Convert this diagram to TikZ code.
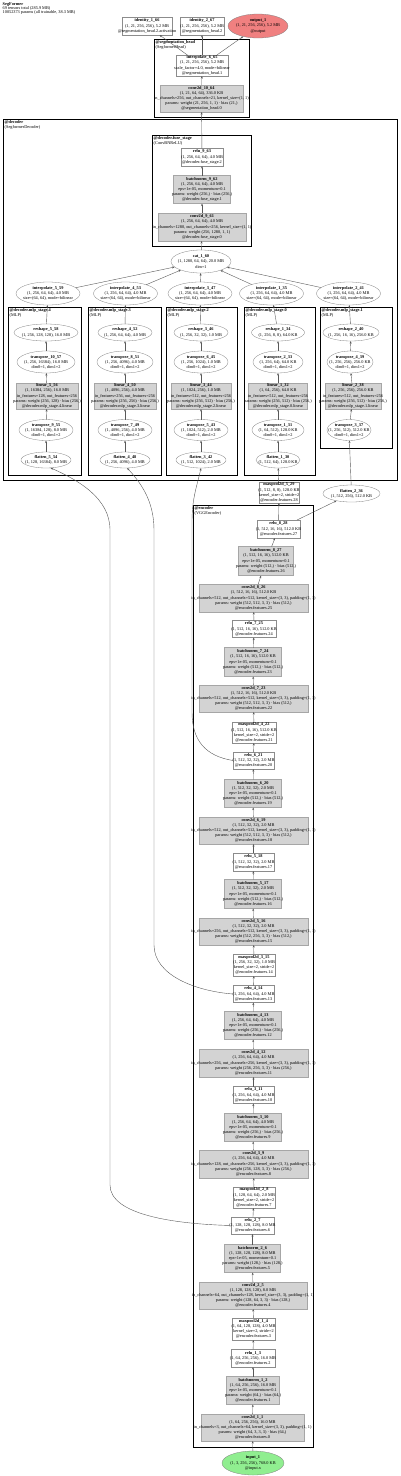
\documentclass[tikz,border=0pt]{standalone}
\usepackage{fontspec}
\setmainfont{Liberation Serif}
\usetikzlibrary{shapes.geometric,arrows.meta}
\definecolor{outfill}{HTML}{F08080}
\definecolor{infill}{HTML}{90EE90}
\definecolor{gfill}{HTML}{D3D3D3}
\tikzset{
 lbl/.style={align=center,inner sep=0pt,font=\fontsize{4.3}{5.1}\selectfont},
 box/.style={draw=black!45,line width=0.3pt,fill=white,inner sep=0pt,outer sep=0pt},
 gbox/.style={draw=black!35,line width=0.5pt,fill=gfill,inner sep=0pt,outer sep=0pt},
 bnbox/.style={draw=black!50,double=black!35,double distance=0.6pt,line width=0.5pt,fill=gfill,inner sep=0pt,outer sep=0pt},
 ell/.style={ellipse,draw=black!50,line width=0.3pt,fill=white,inner sep=0pt,outer sep=0pt},
 clu/.style={draw=black,line width=1pt},
 clulbl/.style={anchor=north west,align=left,inner sep=0pt,font=\fontsize{4.3}{4.6}\selectfont},
 edge/.style={draw=black!65,line width=0.4pt,-{Stealth[length=2.6pt,width=2pt]}},
}
\newcommand\bx[7]{\node[#6,minimum width=#4pt,minimum height=#5pt] (#1) at (#2,#3) {};\node[lbl] (#1t) at (#2,#3) {#7};}
\newcommand\el[7]{\node[ell,#6,minimum width=#4pt,minimum height=#5pt] (#1) at (#2,#3) {};\node[lbl] (#1t) at (#2,#3) {#7};}
\newcommand\TB[1]{\textbf{#1}}
\newcommand\EPSm{eps=1e-05, momentum=0.1}
\newcommand\CONVk[2]{in\_channels=#1, out\_channels=#2, kernel\_size=(3, 3), padding=(1, 1)}
\newcommand\ENCf[1]{@encoder.features.#1}
\newcommand\INTt{(1, 256, 64, 64), 4.0 MB\\size=(64, 64), mode=bilinear}
\begin{document}
\begin{tikzpicture}[x=1pt,y=-1pt]
\useasboundingbox (0,0) rectangle (400,1476);
% header
\node[anchor=north west,align=left,inner sep=0pt,font=\fontsize{4.3}{4.0}\selectfont] (hdr) at (2.5,2)
 {\TB{SegFormer}\\69 tensors total (285.9 MB)\\10052373 params (all trainable, 38.3 MB)};
% clusters
\draw[clu] (154,39) rectangle (249,117);
\node[clulbl] (lseg) at (155.5,40.5) {\TB{@segmentation\_head}\\(SegformerHead)};
\draw[clu] (3,119) rectangle (397,480);
\node[clulbl] (ldec) at (4.5,120.5) {\TB{@decoder}\\(SegformerDecoder)};
\draw[clu] (152,135) rectangle (251,246);
\node[clulbl] (lfuse) at (153.5,136.5) {\TB{@decoder.fuse\_stage}\\(ConvBNReLU)};
\draw[clu] (8,307) rectangle (81,475);
\node[clulbl] (lm4) at (9.5,308.5) {\TB{@decoder.mlp\_stage.4}\\(MLP)};
\draw[clu] (88,307) rectangle (161,475);
\node[clulbl] (lm3) at (89.5,308.5) {\TB{@decoder.mlp\_stage.3}\\(MLP)};
\draw[clu] (166,307) rectangle (237,475);
\node[clulbl] (lm2) at (167.5,308.5) {\TB{@decoder.mlp\_stage.2}\\(MLP)};
\draw[clu] (244,307) rectangle (315,475);
\node[clulbl] (lm0) at (245.5,308.5) {\TB{@decoder.mlp\_stage.0}\\(MLP)};
\draw[clu] (320,307) rectangle (392,448);
\node[clulbl] (lm1) at (321.5,308.5) {\TB{@decoder.mlp\_stage.1}\\(MLP)};
\draw[clu] (193,505) rectangle (313,1447);
\node[clulbl] (lenc) at (194.5,506.5) {\TB{@encoder}\\(VGGEncoder)};
% head
\bx{n66}{147}{26}{50}{18}{box}{\TB{identity\_1\_66}\\(1, 21, 256, 256), 5.2 MB\\@segmentation\_head.2.activation}
\bx{n67}{202}{26}{44}{18}{box}{\TB{identity\_2\_67}\\(1, 21, 256, 256), 5.2 MB\\@segmentation\_head.2}
\el{nout}{258}{26}{60}{24}{fill=outfill}{\TB{output\_1}\\(1, 21, 256, 256), 5.2 MB\\@output}
\bx{n65}{202}{65.5}{52}{21}{box}{\TB{interpolate\_6\_65}\\(1, 21, 256, 256), 5.2 MB\\scale\_factor=4.0, mode=bilinear\\@segmentation\_head.1}
\bx{n64}{201.5}{98.5}{83}{27}{gbox}{\TB{conv2d\_10\_64}\\(1, 21, 64, 64), 336.0 KB\\in\_channels=256, out\_channels=21, kernel\_size=(1, 1)\\params: weight (21, 256, 1, 1) · bias (21,)\\@segmentation\_head.0}
% fuse
\bx{n63}{202}{157}{42}{18}{box}{\TB{relu\_9\_63}\\(1, 256, 64, 64), 4.0 MB\\@decoder.fuse\_stage.2}
\bx{n62}{202}{189.5}{57}{28}{bnbox}{\TB{batchnorm\_9\_62}\\(1, 256, 64, 64), 4.0 MB\\\EPSm\\params: weight (256,) · bias (256,)\\@decoder.fuse\_stage.1}
\bx{n61}{202}{227}{88}{28}{gbox}{\TB{conv2d\_9\_61}\\(1, 256, 64, 64), 4.0 MB\\in\_channels=1280, out\_channels=256, kernel\_size=(1, 1)\\params: weight (256, 1280, 1, 1)\\@decoder.fuse\_stage.0}
\el{n60}{201}{261.5}{60}{23}{}{\TB{cat\_1\_60}\\(1, 1280, 64, 64), 20.0 MB\\dim=1}
% interpolates
\el{n59}{48}{293.5}{64}{23}{}{\TB{interpolate\_5\_59}\\\INTt}
\el{n53}{125.5}{293.5}{64}{23}{}{\TB{interpolate\_4\_53}\\\INTt}
\el{n47}{200}{293.5}{64}{23}{}{\TB{interpolate\_3\_47}\\\INTt}
\el{n35}{271.5}{293.5}{64}{23}{}{\TB{interpolate\_1\_35}\\\INTt}
\el{n41}{348.5}{293.5}{64}{23}{}{\TB{interpolate\_2\_41}\\\INTt}
% mlp stage 4
\el{n58}{46}{332.5}{64}{17}{}{\TB{reshape\_5\_58}\\(1, 256, 128, 128), 16.0 MB}
\el{n57}{46}{362}{58}{22}{}{\TB{transpose\_10\_57}\\(1, 256, 16384), 16.0 MB\\dim0=1, dim1=2}
\bx{n56}{47}{396}{62}{26}{gbox}{\TB{linear\_5\_56}\\(1, 16384, 256), 16.0 MB\\in\_features=128, out\_features=256\\params: weight (256, 128) · bias (256,)\\@decoder.mlp\_stage.4.linear}
\el{n55}{46}{430}{54}{21}{}{\TB{transpose\_9\_55}\\(1, 16384, 128), 8.0 MB\\dim0=1, dim1=2}
\el{n54}{46}{460}{50}{16}{}{\TB{flatten\_5\_54}\\(1, 128, 16384), 8.0 MB}
% mlp stage 3
\el{n52}{125}{332.5}{54}{17}{}{\TB{reshape\_4\_52}\\(1, 256, 64, 64), 4.0 MB}
\el{n51}{125}{362}{56}{22}{}{\TB{transpose\_8\_51}\\(1, 256, 4096), 4.0 MB\\dim0=1, dim1=2}
\bx{n50}{125}{396}{62}{26}{gbox}{\TB{linear\_4\_50}\\(1, 4096, 256), 4.0 MB\\in\_features=256, out\_features=256\\params: weight (256, 256) · bias (256,)\\@decoder.mlp\_stage.3.linear}
\el{n49}{125}{430}{54}{21}{}{\TB{transpose\_7\_49}\\(1, 4096, 256), 4.0 MB\\dim0=1, dim1=2}
\el{n48}{125}{460}{50}{16}{}{\TB{flatten\_4\_48}\\(1, 256, 4096), 4.0 MB}
% mlp stage 2
\el{n46}{201}{332.5}{54}{17}{}{\TB{reshape\_3\_46}\\(1, 256, 32, 32), 1.0 MB}
\el{n45}{201}{362}{54}{22}{}{\TB{transpose\_6\_45}\\(1, 256, 1024), 1.0 MB\\dim0=1, dim1=2}
\bx{n44}{201}{396}{60}{26}{gbox}{\TB{linear\_3\_44}\\(1, 1024, 256), 1.0 MB\\in\_features=512, out\_features=256\\params: weight (256, 512) · bias (256,)\\@decoder.mlp\_stage.2.linear}
\el{n43}{201}{430}{54}{21}{}{\TB{transpose\_5\_43}\\(1, 1024, 512), 2.0 MB\\dim0=1, dim1=2}
\el{n42}{201}{460}{50}{16}{}{\TB{flatten\_3\_42}\\(1, 512, 1024), 2.0 MB}
% mlp stage 0
\el{n34}{278}{332.5}{53}{17}{}{\TB{reshape\_1\_34}\\(1, 256, 8, 8), 64.0 KB}
\el{n33}{278}{362}{50}{22}{}{\TB{transpose\_2\_33}\\(1, 256, 64), 64.0 KB\\dim0=1, dim1=2}
\bx{n32}{278}{396}{59}{26}{gbox}{\TB{linear\_1\_32}\\(1, 64, 256), 64.0 KB\\in\_features=512, out\_features=256\\params: weight (256, 512) · bias (256,)\\@decoder.mlp\_stage.0.linear}
\el{n31}{278}{430}{52}{21}{}{\TB{transpose\_1\_31}\\(1, 64, 512), 128.0 KB\\dim0=1, dim1=2}
\el{n30}{278}{460}{44}{16}{}{\TB{flatten\_1\_30}\\(1, 512, 64), 128.0 KB}
% mlp stage 1
\el{n40}{351}{332.5}{56}{17}{}{\TB{reshape\_2\_40}\\(1, 256, 16, 16), 256.0 KB}
\el{n39}{350}{362}{46}{22}{}{\TB{transpose\_4\_39}\\(1, 256, 256), 256.0 KB\\dim0=1, dim1=2}
\bx{n38}{353}{396}{56}{26}{gbox}{\TB{linear\_2\_38}\\(1, 256, 256), 256.0 KB\\in\_features=512, out\_features=256\\params: weight (256, 512) · bias (256,)\\@decoder.mlp\_stage.1.linear}
\el{n37}{349}{430}{44}{21}{}{\TB{transpose\_3\_37}\\(1, 256, 512), 512.0 KB\\dim0=1, dim1=2}
\el{n36}{351.5}{493.5}{57}{17}{}{\TB{flatten\_2\_36}\\(1, 512, 256), 512.0 KB}
% encoder
\bx{n29}{279}{492.5}{40}{21}{box}{\TB{maxpool2d\_5\_29}\\(1, 512, 8, 8), 128.0 KB\\kernel\_size=2, stride=2\\\ENCf{28}}
\bx{n28}{278.5}{529}{43}{18}{box}{\TB{relu\_8\_28}\\(1, 512, 16, 16), 512.0 KB\\\ENCf{27}}
\bx{n27}{266}{561}{55}{29}{bnbox}{\TB{batchnorm\_8\_27}\\(1, 512, 16, 16), 512.0 KB\\\EPSm\\params: weight (512,) · bias (512,)\\\ENCf{26}}
\bx{n26}{253.5}{598}{109}{28}{gbox}{\TB{conv2d\_8\_26}\\(1, 512, 16, 16), 512.0 KB\\\CONVk{512}{512}\\params: weight (512, 512, 3, 3) · bias (512,)\\\ENCf{25}}
\bx{n25}{254}{629}{44}{17}{box}{\TB{relu\_7\_25}\\(1, 512, 16, 16), 512.0 KB\\\ENCf{24}}
\bx{n24}{253}{662}{57}{29}{bnbox}{\TB{batchnorm\_7\_24}\\(1, 512, 16, 16), 512.0 KB\\\EPSm\\params: weight (512,) · bias (512,)\\\ENCf{23}}
\bx{n23}{253.5}{698.5}{109}{27}{gbox}{\TB{conv2d\_7\_23}\\(1, 512, 16, 16), 512.0 KB\\\CONVk{512}{512}\\params: weight (512, 512, 3, 3) · bias (512,)\\\ENCf{22}}
\bx{n22}{254}{732.5}{44}{21}{box}{\TB{maxpool2d\_4\_22}\\(1, 512, 16, 16), 512.0 KB\\kernel\_size=2, stride=2\\\ENCf{21}}
\bx{n21}{253.5}{760.5}{41}{17}{box}{\TB{relu\_6\_21}\\(1, 512, 32, 32), 2.0 MB\\\ENCf{20}}
\bx{n20}{253}{793.5}{57}{28}{bnbox}{\TB{batchnorm\_6\_20}\\(1, 512, 32, 32), 2.0 MB\\\EPSm\\params: weight (512,) · bias (512,)\\\ENCf{19}}
\bx{n19}{253.5}{830.5}{109}{27}{gbox}{\TB{conv2d\_6\_19}\\(1, 512, 32, 32), 2.0 MB\\\CONVk{512}{512}\\params: weight (512, 512, 3, 3) · bias (512,)\\\ENCf{18}}
\bx{n18}{253.5}{862}{41}{18}{box}{\TB{relu\_5\_18}\\(1, 512, 32, 32), 2.0 MB\\\ENCf{17}}
\bx{n17}{253}{894}{57}{29}{bnbox}{\TB{batchnorm\_5\_17}\\(1, 512, 32, 32), 2.0 MB\\\EPSm\\params: weight (512,) · bias (512,)\\\ENCf{16}}
\bx{n16}{253.5}{931.5}{109}{27}{gbox}{\TB{conv2d\_5\_16}\\(1, 512, 32, 32), 2.0 MB\\\CONVk{256}{512}\\params: weight (512, 256, 3, 3) · bias (512,)\\\ENCf{15}}
\bx{n15}{254}{965}{42}{22}{box}{\TB{maxpool2d\_3\_15}\\(1, 256, 32, 32), 1.0 MB\\kernel\_size=2, stride=2\\\ENCf{14}}
\bx{n14}{253.5}{994}{41}{17}{box}{\TB{relu\_4\_14}\\(1, 256, 64, 64), 4.0 MB\\\ENCf{13}}
\bx{n13}{253}{1025.5}{57}{28}{bnbox}{\TB{batchnorm\_4\_13}\\(1, 256, 64, 64), 4.0 MB\\\EPSm\\params: weight (256,) · bias (256,)\\\ENCf{12}}
\bx{n12}{253.5}{1063}{109}{28}{gbox}{\TB{conv2d\_4\_12}\\(1, 256, 64, 64), 4.0 MB\\\CONVk{256}{256}\\params: weight (256, 256, 3, 3) · bias (256,)\\\ENCf{11}}
\bx{n11}{253.5}{1095}{41}{17}{box}{\TB{relu\_3\_11}\\(1, 256, 64, 64), 4.0 MB\\\ENCf{10}}
\bx{n10}{253}{1127.5}{57}{28}{bnbox}{\TB{batchnorm\_3\_10}\\(1, 256, 64, 64), 4.0 MB\\\EPSm\\params: weight (256,) · bias (256,)\\\ENCf{9}}
\bx{n9}{253.5}{1164}{109}{28}{gbox}{\TB{conv2d\_3\_9}\\(1, 256, 64, 64), 4.0 MB\\\CONVk{128}{256}\\params: weight (256, 128, 3, 3) · bias (256,)\\\ENCf{8}}
\bx{n8}{254}{1197.5}{42}{21}{box}{\TB{maxpool2d\_2\_8}\\(1, 128, 64, 64), 2.0 MB\\kernel\_size=2, stride=2\\\ENCf{7}}
\bx{n7}{252.5}{1225.5}{43}{17}{box}{\TB{relu\_2\_7}\\(1, 128, 128, 128), 8.0 MB\\\ENCf{6}}
\bx{n6}{252.5}{1258.5}{56}{28}{bnbox}{\TB{batchnorm\_2\_6}\\(1, 128, 128, 128), 8.0 MB\\\EPSm\\params: weight (128,) · bias (128,)\\\ENCf{5}}
\bx{n5}{253}{1295.5}{108}{27}{gbox}{\TB{conv2d\_2\_5}\\(1, 128, 128, 128), 8.0 MB\\\CONVk{64}{128}\\params: weight (128, 64, 3, 3) · bias (128,)\\\ENCf{4}}
\bx{n4}{253.5}{1329}{43}{22}{box}{\TB{maxpool2d\_1\_4}\\(1, 64, 128, 128), 4.0 MB\\kernel\_size=2, stride=2\\\ENCf{3}}
\bx{n3}{253}{1358}{44}{18}{box}{\TB{relu\_1\_3}\\(1, 64, 256, 256), 16.0 MB\\\ENCf{2}}
\bx{n2}{253}{1390.5}{53}{28}{bnbox}{\TB{batchnorm\_1\_2}\\(1, 64, 256, 256), 16.0 MB\\\EPSm\\params: weight (64,) · bias (64,)\\\ENCf{1}}
\bx{n1}{252.5}{1427.5}{103}{27}{gbox}{\TB{conv2d\_1\_1}\\(1, 64, 256, 256), 16.0 MB\\\CONVk{3}{64}\\params: weight (64, 3, 3, 3) · bias (64,)\\\ENCf{0}}
\el{nin}{253}{1463}{62}{24}{fill=infill}{\TB{input\_1}\\(1, 3, 256, 256), 768.0 KB\\@input.x}
% edges
\draw[edge] (nin) -- (n1);
\foreach \i in {1,...,64} {
  \ifnum\i=35 \else\ifnum\i=41 \else\ifnum\i=47 \else\ifnum\i=53 \else
  \pgfmathtruncatemacro\j{\i+1}
  \draw[edge] (n\i) -- (n\j);
  \fi\fi\fi\fi
}
\foreach \i in {35,41,47,53} {\draw[edge] (n\i) -- (n60);}
\draw[edge] (n28) -- (n36);
\draw[edge] (n65) -- (n66);
\draw[edge] (n65) -- (n67);
\draw[edge] (n65) -- (nout);
\draw[edge] (n7.west) .. controls (175,1224) and (110,1215) .. (110,1185) -- (110,530) .. controls (110,498) and (78,480) .. (n54.-60);
\draw[edge] (n14.west) .. controls (195,991) and (154,975) .. (154,945) -- (154,530) .. controls (154,500) and (140,482) .. (n48.-75);
\draw[edge] (n21.west) .. controls (205,756) and (192,740) .. (192,712) -- (192,522) .. controls (192,498) and (197,486) .. (n42.south);
\end{tikzpicture}
\end{document}
